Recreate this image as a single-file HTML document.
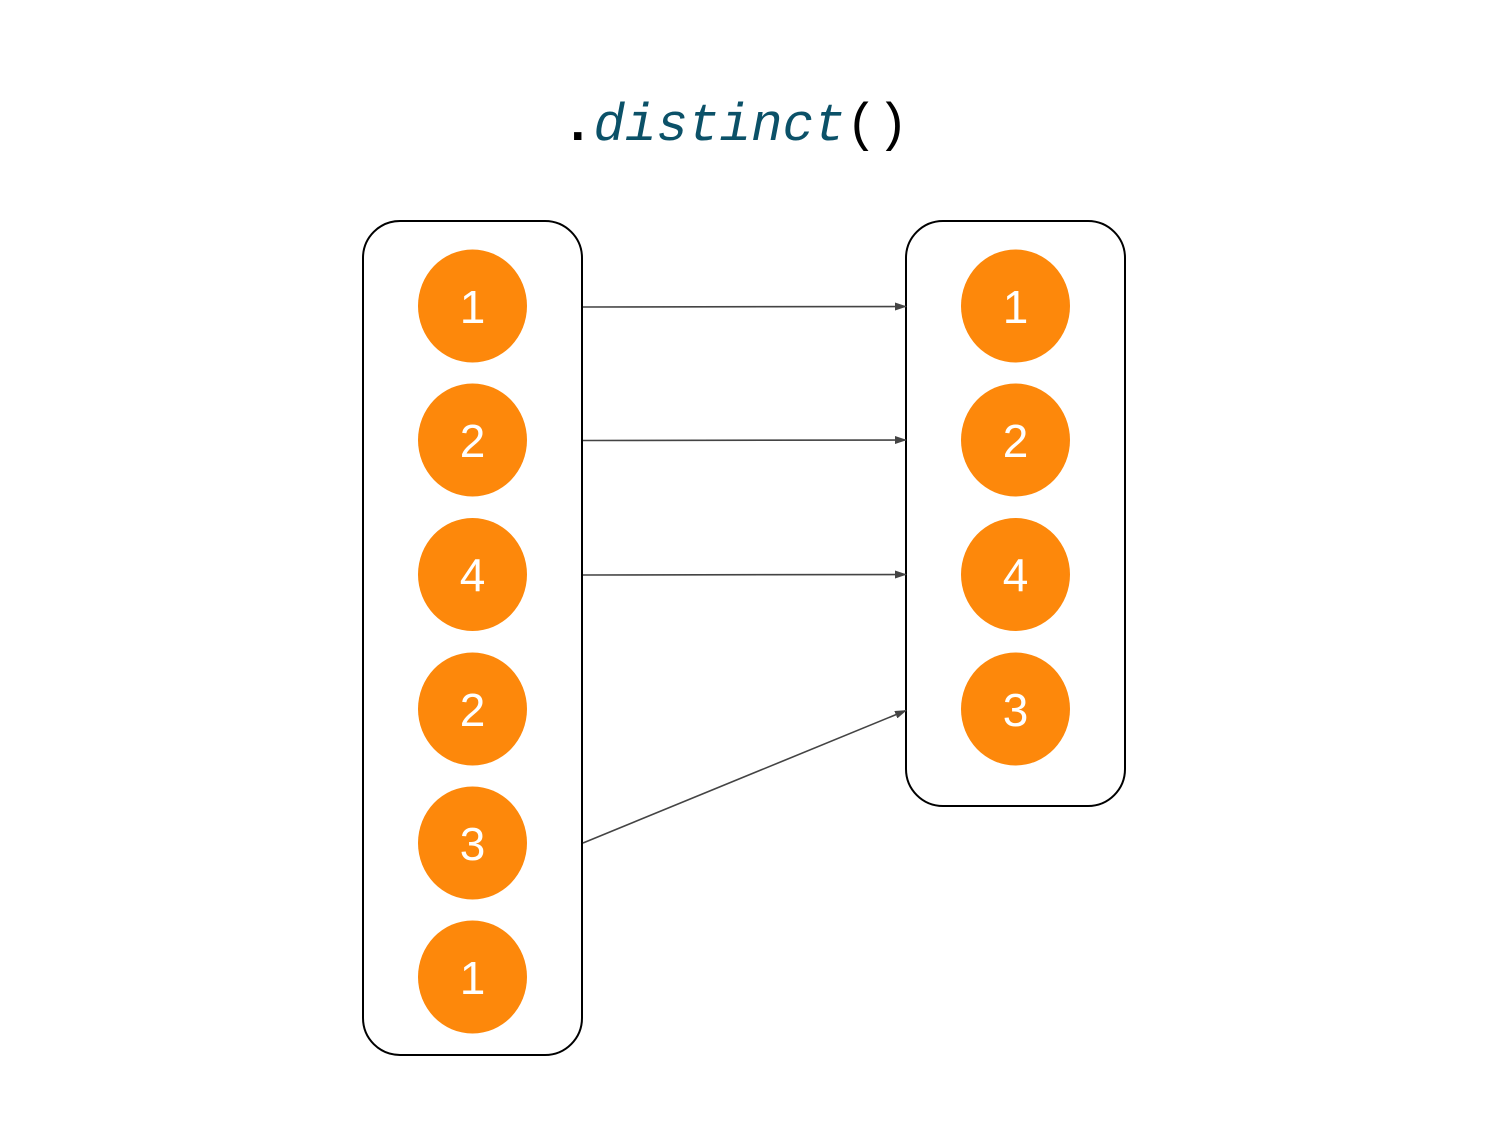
<!DOCTYPE html>
<html><head><meta charset="utf-8"><style>
html,body{margin:0;padding:0;background:#fff;}
svg{display:block;}
</style></head><body>
<svg width="1500" height="1125" viewBox="0 0 1500 1125" xmlns="http://www.w3.org/2000/svg">
<defs>
<marker id="ah" markerWidth="12" markerHeight="8" refX="11" refY="4" orient="auto" markerUnits="userSpaceOnUse">
<path d="M0,0 L12,4 L0,8 z" fill="#444"/>
</marker>
</defs>
<text x="562" y="140" font-family="Liberation Mono, monospace" font-size="52.5" xml:space="preserve"><tspan fill="#000" font-weight="bold">.</tspan><tspan fill="#0b5168" font-style="italic">distinct</tspan><tspan fill="#000">()</tspan></text>
<rect x="363" y="221" width="219" height="834" rx="37" ry="37" fill="none" stroke="#000" stroke-width="2"/>
<rect x="906" y="221" width="219" height="585" rx="37" ry="37" fill="none" stroke="#000" stroke-width="2"/>
<g fill="#fd880b">
<ellipse cx="472.5" cy="306" rx="54.5" ry="56.5"/>
<ellipse cx="472.5" cy="440" rx="54.5" ry="56.5"/>
<ellipse cx="472.5" cy="574.5" rx="54.5" ry="56.5"/>
<ellipse cx="472.5" cy="709" rx="54.5" ry="56.5"/>
<ellipse cx="472.5" cy="843" rx="54.5" ry="56.5"/>
<ellipse cx="472.5" cy="977" rx="54.5" ry="56.5"/>
<ellipse cx="1015.5" cy="306" rx="54.5" ry="56.5"/>
<ellipse cx="1015.5" cy="440" rx="54.5" ry="56.5"/>
<ellipse cx="1015.5" cy="574.5" rx="54.5" ry="56.5"/>
<ellipse cx="1015.5" cy="709" rx="54.5" ry="56.5"/>
</g>
<g fill="#fff" font-family="Liberation Sans, Arial, sans-serif" font-size="46" text-anchor="middle">
<text x="472.5" y="323">1</text>
<text x="472.5" y="457">2</text>
<text x="472.5" y="591">4</text>
<text x="472.5" y="726">2</text>
<text x="472.5" y="860">3</text>
<text x="472.5" y="994">1</text>
<text x="1015.5" y="323">1</text>
<text x="1015.5" y="457">2</text>
<text x="1015.5" y="591">4</text>
<text x="1015.5" y="726">3</text>
</g>
<g stroke="#444" stroke-width="1.6" fill="none" marker-end="url(#ah)">
<line x1="583" y1="307" x2="906" y2="306.5"/>
<line x1="583" y1="440.5" x2="906" y2="440"/>
<line x1="583" y1="575" x2="906" y2="574.5"/>
<line x1="583" y1="843" x2="906" y2="710.5"/>
</g>
</svg>
</body></html>
